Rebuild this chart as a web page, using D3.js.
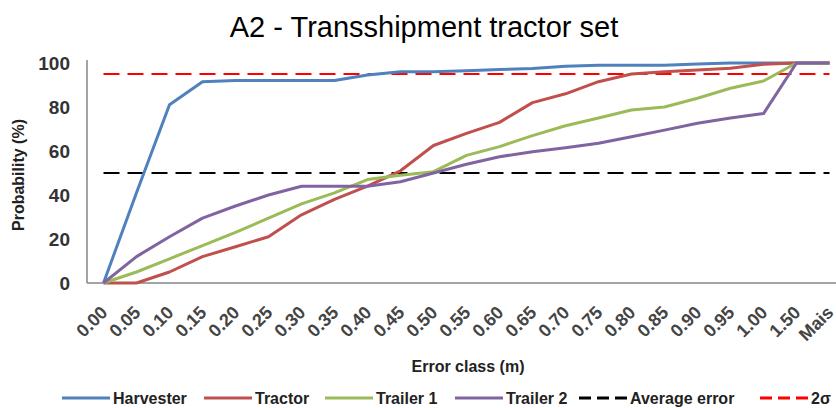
<!DOCTYPE html>
<html>
<head>
<meta charset="utf-8">
<script src="https://cdn.jsdelivr.net/npm/d3@7"></script>
<style>
  body { margin: 0; background: #fff; }
  text { font-family: "Liberation Sans", Arial, sans-serif; }
</style>
</head>
<body>
<div id="chart"></div>
<script>
var categories = ["0.00", "0.05", "0.10", "0.15", "0.20", "0.25", "0.30", "0.35", "0.40", "0.45", "0.50",
                  "0.55", "0.60", "0.65", "0.70", "0.75", "0.80", "0.85", "0.90", "0.95", "1.00", "1.50", "Mais"];
var harvester = [0, 41, 81, 91.5, 92, 92, 92, 92, 94.5, 96, 96, 96.5, 97, 97.5, 98.5, 99, 99, 99, 99.5, 100, 100, 100, 100];
var tractor   = [0, 0, 5, 12, 16.5, 21, 31, 38, 44, 51, 62.5, 68, 73, 82, 86, 91.5, 95, 96, 96.8, 97.6, 99.4, 100, 100];
var trailer1  = [0, 5, 11, 17, 23, 29.5, 36, 41, 47, 49, 50.6, 58, 62, 67, 71.5, 75, 78.6, 80, 84, 88.5, 91.8, 100, 100];
var trailer2  = [0, 12, 21, 29.5, 35, 40, 44, 44, 44, 46, 50, 54, 57.4, 59.7, 61.5, 63.5, 66.5, 69.5, 72.6, 75, 77, 100, 100];
var averageError = 50;
var twoSigma = 95;
var yTicks = [0, 20, 40, 60, 80, 100];

var series = [
  {name: "Harvester", values: harvester, color: "#4F81BD"},
  {name: "Tractor", values: tractor, color: "#C0504D"},
  {name: "Trailer 1", values: trailer1, color: "#9BBB59"},
  {name: "Trailer 2", values: trailer2, color: "#8064A2"}
];
var refLines = [
  {name: "Average error", value: averageError, color: "#000000"},
  {name: "2\u03c3", value: twoSigma, color: "#FF0000"}
];

var width = 836, height = 408;
var svg = d3.select("#chart").append("svg")
  .attr("width", width)
  .attr("height", height);

var x = d3.scalePoint()
  .domain(categories)
  .range([87, 87 + 23 * 33])
  .padding(0.5);

var y = d3.scaleLinear()
  .domain([0, 100])
  .range([283, 63]);

// title
svg.append("text")
  .attr("x", 424)
  .attr("y", 37)
  .attr("text-anchor", "middle")
  .attr("fill", "#000")
  .style("font-size", "29px")
  .text("A2 - Transshipment tractor set");

// y axis
var yAxis = svg.append("g")
  .attr("transform", "translate(87,0)")
  .call(d3.axisLeft(y).tickValues(yTicks).tickSize(0).tickPadding(17));
yAxis.select(".domain").attr("stroke", "#868686").attr("stroke-width", 1.5)
  .attr("d", "M0," + (y(100) - 3) + "V" + y(0));
yAxis.selectAll("text")
  .style("font-size", "19px")
  .style("font-weight", "bold")
  .attr("fill", "#333");

// x axis
var xAxis = svg.append("g")
  .attr("transform", "translate(0," + y(0) + ")")
  .call(d3.axisBottom(x).tickSize(0));
xAxis.select(".domain").attr("stroke", "#868686").attr("stroke-width", 1.5)
  .attr("d", "M87,0H" + width);
xAxis.selectAll("text")
  .style("font-size", "18px")
  .style("font-weight", "bold")
  .attr("fill", "#444")
  .attr("text-anchor", "end")
  .attr("dy", "0.35em")
  .attr("transform", "translate(-2,24) rotate(-45)");

// axis titles
svg.append("text")
  .attr("transform", "translate(24,175) rotate(-90)")
  .attr("text-anchor", "middle")
  .style("font-size", "16px")
  .style("font-weight", "bold")
  .attr("fill", "#222")
  .text("Probability (%)");

svg.append("text")
  .attr("x", 468)
  .attr("y", 372)
  .attr("text-anchor", "middle")
  .style("font-size", "16px")
  .style("font-weight", "bold")
  .attr("fill", "#222")
  .text("Error class (m)");

// reference lines
svg.selectAll(".ref")
  .data(refLines)
  .enter().append("line")
  .attr("class", "ref")
  .attr("x1", x(categories[0]))
  .attr("x2", x(categories[categories.length - 1]))
  .attr("y1", function(d) { return y(d.value); })
  .attr("y2", function(d) { return y(d.value); })
  .attr("stroke", function(d) { return d.color; })
  .attr("stroke-width", 2)
  .attr("stroke-dasharray", "16,8");

// series lines
var line = d3.line()
  .x(function(d, i) { return x(categories[i]); })
  .y(function(d) { return y(d); });

svg.selectAll(".series")
  .data(series)
  .enter().append("path")
  .attr("class", "series")
  .attr("fill", "none")
  .attr("stroke", function(d) { return d.color; })
  .attr("stroke-width", 3)
  .attr("stroke-linejoin", "round")
  .attr("d", function(d) { return line(d.values); });

// legend
var legendItems = series.map(function(d) { return {name: d.name, color: d.color, dash: null}; })
  .concat(refLines.map(function(d) { return {name: d.name, color: d.color, dash: "12,6"}; }));
var legendStarts = [62, 204, 325, 455, 579, 760];
var ly = 398;

var items = svg.selectAll(".legend-item")
  .data(legendItems)
  .enter().append("g")
  .attr("class", "legend-item")
  .attr("transform", function(d, i) { return "translate(" + legendStarts[i] + "," + ly + ")"; });

items.append("line")
  .attr("x1", 0)
  .attr("x2", 48)
  .attr("stroke", function(d) { return d.color; })
  .attr("stroke-width", 3)
  .attr("stroke-dasharray", function(d) { return d.dash; });

items.append("text")
  .attr("x", 51)
  .attr("y", 6)
  .style("font-size", "16px")
  .style("font-weight", "bold")
  .attr("fill", "#222")
  .text(function(d) { return d.name; });
</script>
</body>
</html>
